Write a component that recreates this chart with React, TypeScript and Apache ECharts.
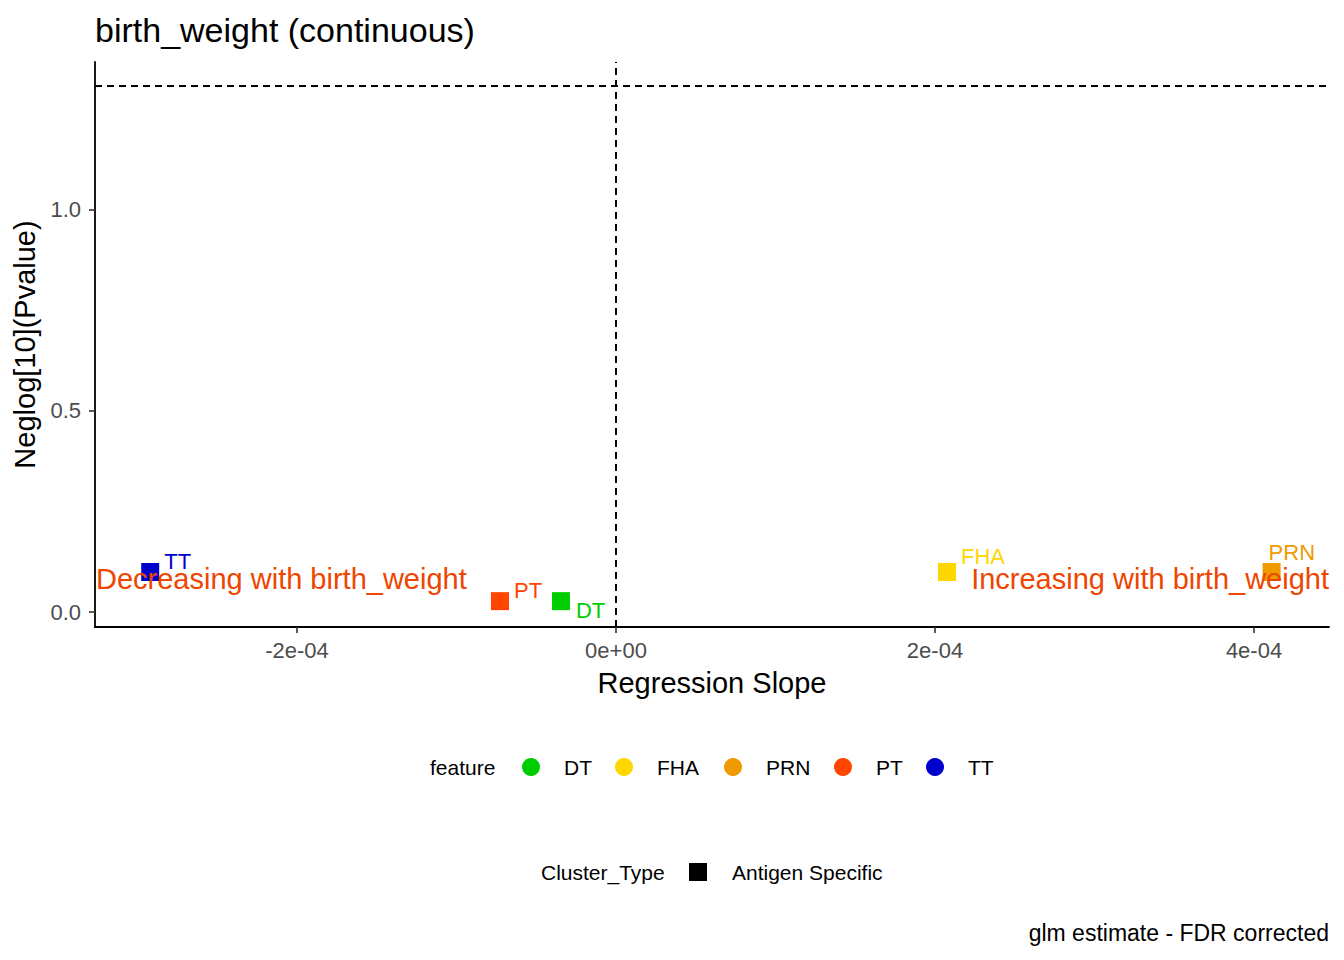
import React, { useEffect, useRef } from "react";
import * as echarts from "echarts";

// ---- data ----
const features = ["DT", "FHA", "PRN", "PT", "TT"];
const featureColors = ["#00CD00", "#FFD700", "#EE9A00", "#FF4500", "#0000CD"];
const slopes = [-3.45e-5, 2.075e-4, 4.11e-4, -7.27e-5, -2.92e-4];
const negLogP = [0.027, 0.0995, 0.0995, 0.027, 0.0995];
const xTickValues = [-2e-4, 0, 2e-4, 4e-4];
const xTickLabels = ["-2e-04", "0e+00", "2e-04", "4e-04"];
const yTickValues = [0, 0.5, 1.0];
const yTickLabels = ["0.0", "0.5", "1.0"];
const xRange = [-3.266e-4, 4.47e-4];
const yRange = [-0.0373, 1.368];
const pThresholdLine = 1.306; // -log10(0.05) as drawn
const slopeZeroLine = 0;
const annotationY = 0.082;
const annotationLeft = "Decreasing with birth_weight";
const annotationRight = "Increasing with birth_weight";
const titleText = "birth_weight (continuous)";
const xTitle = "Regression Slope";
const yTitle = "Neglog[10](Pvalue)";
const captionText = "glm estimate - FDR corrected";
const featureLegendTitle = "feature";
const clusterLegendTitle = "Cluster_Type";
const clusterTypes = ["Antigen Specific"];

// ---- layout (not data) ----
const FONT = '"Liberation Sans", Arial, Helvetica, sans-serif';
const ANNOT_COLOR = "#EE4500";
const labelOffsets: Record<string, [number, number]> = {
  DT: [1, 9],
  FHA: [0, -15],
  PRN: [-17, -19],
  PT: [0, -11],
  TT: [0, -10],
};
const featureLegendCircleX = [531, 624, 733, 843, 935];
const featureLegendY = 767;
const clusterLegendY = 872;

export default function App() {
  const ref = useRef<HTMLDivElement>(null);
  useEffect(() => {
    if (!ref.current) return;
    const chart = echarts.init(ref.current, null, { renderer: "svg" });

    const pointSeries = features.map((f, i) => ({
      type: "scatter",
      name: f,
      symbol: "rect",
      symbolSize: 18,
      z: 2,
      itemStyle: { color: featureColors[i], opacity: 1 },
      label: {
        show: true,
        position: "right",
        distance: 5,
        offset: labelOffsets[f],
        formatter: f,
        color: featureColors[i],
        fontSize: 22,
        fontFamily: FONT,
      },
      data: [[slopes[i], negLogP[i]]],
      markLine:
        i === 0
          ? {
              silent: true,
              symbol: "none",
              label: { show: false },
              lineStyle: { color: "#000", type: [7, 5], width: 2 },
              data: [{ xAxis: slopeZeroLine }, { yAxis: pThresholdLine }],
            }
          : undefined,
    }));

    const annotationSeries = [
      {
        type: "scatter",
        symbolSize: 0,
        z: 10,
        clip: false,
        silent: true,
        itemStyle: { opacity: 1 },
        data: [[xRange[0], annotationY]],
        label: {
          show: true,
          position: "right",
          distance: 1,
          formatter: annotationLeft,
          color: ANNOT_COLOR,
          fontSize: 29,
          fontFamily: FONT,
        },
      },
      {
        type: "scatter",
        symbolSize: 0,
        z: 10,
        clip: false,
        silent: true,
        itemStyle: { opacity: 1 },
        data: [[xRange[1], annotationY]],
        label: {
          show: true,
          position: "left",
          distance: 0,
          formatter: annotationRight,
          color: ANNOT_COLOR,
          fontSize: 29,
          fontFamily: FONT,
        },
      },
    ];

    const textStyle = (text: string, extra: any = {}) => ({
      text,
      fontSize: 21,
      fontFamily: FONT,
      fill: "#000",
      verticalAlign: "middle",
      ...extra,
    });

    const legendElems: any[] = [
      { type: "text", x: 430, y: featureLegendY, style: textStyle(featureLegendTitle) },
    ];
    features.forEach((f, i) => {
      legendElems.push({
        type: "circle",
        shape: { cx: featureLegendCircleX[i], cy: featureLegendY, r: 9 },
        style: { fill: featureColors[i] },
      });
      legendElems.push({
        type: "text",
        x: featureLegendCircleX[i] + 33,
        y: featureLegendY,
        style: textStyle(f),
      });
    });
    legendElems.push({ type: "text", x: 541, y: clusterLegendY, style: textStyle(clusterLegendTitle) });
    legendElems.push({
      type: "rect",
      shape: { x: 689, y: clusterLegendY - 9, width: 18, height: 18 },
      style: { fill: "#000" },
    });
    legendElems.push({ type: "text", x: 732, y: clusterLegendY, style: textStyle(clusterTypes[0]) });
    legendElems.push({
      type: "text",
      x: 1329,
      y: 933,
      style: textStyle(captionText, { fontSize: 23, align: "right" }),
    });

    chart.setOption({
      animation: false,
      backgroundColor: "#fff",
      title: {
        text: titleText,
        left: 95,
        top: 13,
        padding: 0,
        textStyle: { fontSize: 34, fontWeight: "normal", color: "#000", fontFamily: FONT },
      },
      grid: { left: 95, right: 15, top: 62, bottom: 333, containLabel: false },
      xAxis: {
        type: "value",
        min: xRange[0],
        max: xRange[1],
        name: xTitle,
        nameLocation: "middle",
        nameGap: 41,
        nameTextStyle: { fontSize: 29, color: "#000", fontFamily: FONT },
        splitLine: { show: false },
        axisLine: { show: true, onZero: false, lineStyle: { color: "#000", width: 1.8 } },
        axisTick: {
          show: true,
          length: 6,
          customValues: xTickValues,
          lineStyle: { color: "#333", width: 1.6 },
        },
        axisLabel: {
          customValues: xTickValues,
          margin: 12,
          fontSize: 22,
          color: "#4D4D4D",
          fontFamily: FONT,
          formatter: (v: number) => {
            const idx = xTickValues.findIndex((t) => Math.abs(t - v) < 1e-9);
            return idx >= 0 ? xTickLabels[idx] : "";
          },
        },
      },
      yAxis: {
        type: "value",
        min: yRange[0],
        max: yRange[1],
        name: yTitle,
        nameLocation: "middle",
        nameGap: 51,
        nameRotate: 90,
        nameTextStyle: { fontSize: 29, color: "#000", fontFamily: FONT },
        splitLine: { show: false },
        axisLine: { show: true, onZero: false, lineStyle: { color: "#000", width: 1.8 } },
        axisTick: {
          show: true,
          length: 6,
          customValues: yTickValues,
          lineStyle: { color: "#333", width: 1.6 },
        },
        axisLabel: {
          customValues: yTickValues,
          margin: 14,
          fontSize: 22,
          color: "#4D4D4D",
          fontFamily: FONT,
          formatter: (v: number) => {
            const idx = yTickValues.findIndex((t) => Math.abs(t - v) < 1e-9);
            return idx >= 0 ? yTickLabels[idx] : "";
          },
        },
      },
      graphic: legendElems,
      series: [...pointSeries, ...annotationSeries],
    } as any);

    return () => chart.dispose();
  }, []);

  return (
    <div
      ref={ref}
      style={{ position: "fixed", left: 0, top: 0, width: 1344, height: 960, background: "#fff" }}
    />
  );
}
